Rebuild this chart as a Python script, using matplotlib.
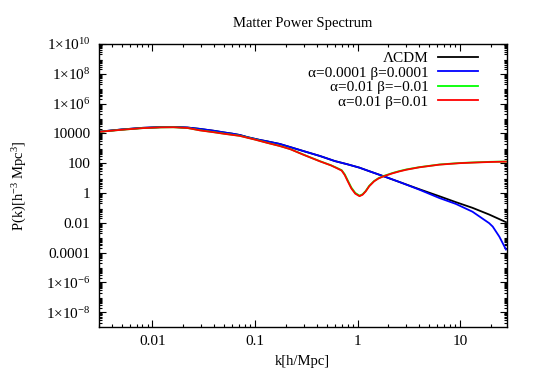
import matplotlib
matplotlib.use("Agg")
import matplotlib.pyplot as plt
import numpy as np
from matplotlib.ticker import FixedLocator, FixedFormatter, LogLocator, NullFormatter

plt.rcParams['font.family'] = ['Liberation Serif', 'DejaVu Serif']
plt.rcParams['mathtext.fontset'] = 'custom'
plt.rcParams['mathtext.rm'] = 'Liberation Serif'
plt.rcParams['mathtext.it'] = 'Liberation Serif:italic'
plt.rcParams['mathtext.bf'] = 'Liberation Serif:bold'

# ---- data (k in h/Mpc, log10 P) ----
k_lcdm = [0.003, 0.005, 0.008, 0.012, 0.016, 0.022, 0.029, 0.04, 0.05, 0.06, 0.071,
          0.085, 0.1, 0.111, 0.13, 0.15, 0.174, 0.22, 0.3, 0.43, 0.6, 0.8, 1.04,
          1.3, 1.83, 2.57, 4.0, 6.27, 9.1, 13.2, 19.2, 28.0]
logP_lcdm = [4.11, 4.26, 4.37, 4.42, 4.43, 4.39, 4.30, 4.17, 4.06, 3.98, 3.89,
             3.74, 3.63, 3.56, 3.47, 3.38, 3.29, 3.08, 2.80, 2.48, 2.14, 1.92, 1.70,
             1.46, 1.10, 0.73, 0.25, -0.22, -0.62, -1.00, -1.45, -1.96]

k_a1 = [0.003, 0.005, 0.008, 0.012, 0.016, 0.022, 0.029, 0.04, 0.05, 0.06, 0.071,
        0.085, 0.1, 0.111, 0.13, 0.15, 0.174, 0.22, 0.3, 0.43, 0.6, 0.8, 1.04,
        1.3, 1.83, 2.57, 4.0, 6.27, 9.1, 13.2, 19.2, 20.8, 24.1, 28.0]
logP_a1 = [4.11, 4.26, 4.37, 4.42, 4.43, 4.39, 4.30, 4.17, 4.06, 3.98, 3.89,
           3.74, 3.63, 3.56, 3.47, 3.38, 3.29, 3.08, 2.80, 2.48, 2.14, 1.92, 1.70,
           1.46, 1.10, 0.73, 0.22, -0.34, -0.74, -1.26, -2.03, -2.26, -2.93, -3.80]

k_mod = [0.003, 0.005, 0.008, 0.012, 0.016, 0.022, 0.029, 0.04, 0.05, 0.071, 0.1,
         0.13, 0.174, 0.22, 0.3, 0.43, 0.55, 0.62, 0.7, 0.75, 0.8, 0.87, 0.95,
         1.045, 1.12, 1.2, 1.3, 1.45, 1.6, 1.8, 2.2, 2.57, 3.0, 4.0, 6.3, 10.0,
         15.0, 20.0, 28.0]
logP_green = [4.10, 4.24, 4.35, 4.40, 4.41, 4.36, 4.21, 4.08, 3.98, 3.84, 3.59,
              3.38, 3.16, 2.95, 2.56, 2.13, 1.86, 1.70, 1.53, 1.25, 0.86, 0.36, 0.0,
              -0.18, -0.09, 0.13, 0.48, 0.80, 0.99, 1.14, 1.34, 1.47, 1.58, 1.73, 1.91, 2.01,
              2.06, 2.09, 2.11]
logP_red = [4.10, 4.24, 4.35, 4.40, 4.41, 4.36, 4.20, 4.07, 3.97, 3.83, 3.58,
            3.37, 3.15, 2.94, 2.55, 2.12, 1.85, 1.68, 1.50, 1.20, 0.80, 0.30, -0.05,
            -0.22, -0.12, 0.10, 0.45, 0.78, 0.97, 1.12, 1.32, 1.45, 1.56, 1.72, 1.90, 2.00,
            2.05, 2.08, 2.10]

labels = ["\u039bCDM", "\u03b1=0.0001 \u03b2=0.0001",
          "\u03b1=0.01 \u03b2=\u22120.01", "\u03b1=0.01 \u03b2=0.01"]

ytick_vals = [1e-8, 1e-6, 1e-4, 1e-2, 1, 1e2, 1e4, 1e6, 1e8, 1e10]
ytick_labels = ["1\u00d710$^{\u22128}$", "1\u00d710$^{\u22126}$", "0.0001", "0.01", "1",
                "100", "10000", "1\u00d710$^{6}$", "1\u00d710$^{8}$", "1\u00d710$^{10}$"]
xtick_vals = [0.01, 0.1, 1, 10]
xtick_labels = ["0.01", "0.1", "1", "10"]

fig = plt.figure(figsize=(5.34, 3.74), dpi=100)
ax = fig.add_axes([0.185, 0.1257, 0.764, 0.7567])

lw = 1.3
ax.plot(k_lcdm, np.power(10.0, logP_lcdm), color='black', lw=lw, label=labels[0])
ax.plot(k_a1, np.power(10.0, logP_a1), color='#0000ff', lw=lw, label=labels[1])
ax.plot(k_mod, np.power(10.0, logP_green), color='#00ff00', lw=lw, label=labels[2])
ax.plot(k_mod, np.power(10.0, logP_red), color='#ff0000', lw=lw, label=labels[3])

ax.set_xscale('log')
ax.set_yscale('log')
ax.set_xlim(0.003, 28.5)
ax.set_ylim(1e-9, 1e10)

ax.yaxis.set_major_locator(FixedLocator(ytick_vals))
ax.yaxis.set_major_formatter(FixedFormatter(ytick_labels))
ax.yaxis.set_minor_locator(LogLocator(base=10, subs=np.arange(2, 10), numticks=100))
ax.yaxis.set_minor_formatter(NullFormatter())
ax.xaxis.set_major_locator(FixedLocator(xtick_vals))
ax.xaxis.set_major_formatter(FixedFormatter(xtick_labels))
ax.xaxis.set_minor_locator(LogLocator(base=10, subs=np.arange(2, 10), numticks=100))
ax.xaxis.set_minor_formatter(NullFormatter())

ax.tick_params(which='both', direction='in', top=True, right=True, labelsize=11, width=0.8)
ax.tick_params(which='major', length=5, pad=6)
ax.tick_params(which='minor', length=2.5)
for s in ax.spines.values():
    s.set_linewidth(1.0)

ax.set_xlabel("k[h/Mpc]", fontsize=10.5, labelpad=5)
ax.set_ylabel("P(k)[h$^{\u22123}$ Mpc$^{3}$]", fontsize=10.5, labelpad=12)
ax.set_title("Matter Power Spectrum", fontsize=10.5, pad=12)

leg = ax.legend(loc='upper right', bbox_to_anchor=(0.945, 0.995), frameon=False,
                markerfirst=False, fontsize=11,
                handlelength=2.6, handletextpad=0.65, labelspacing=0.05,
                borderaxespad=0.0)

fig.savefig("out.png", dpi=100)
